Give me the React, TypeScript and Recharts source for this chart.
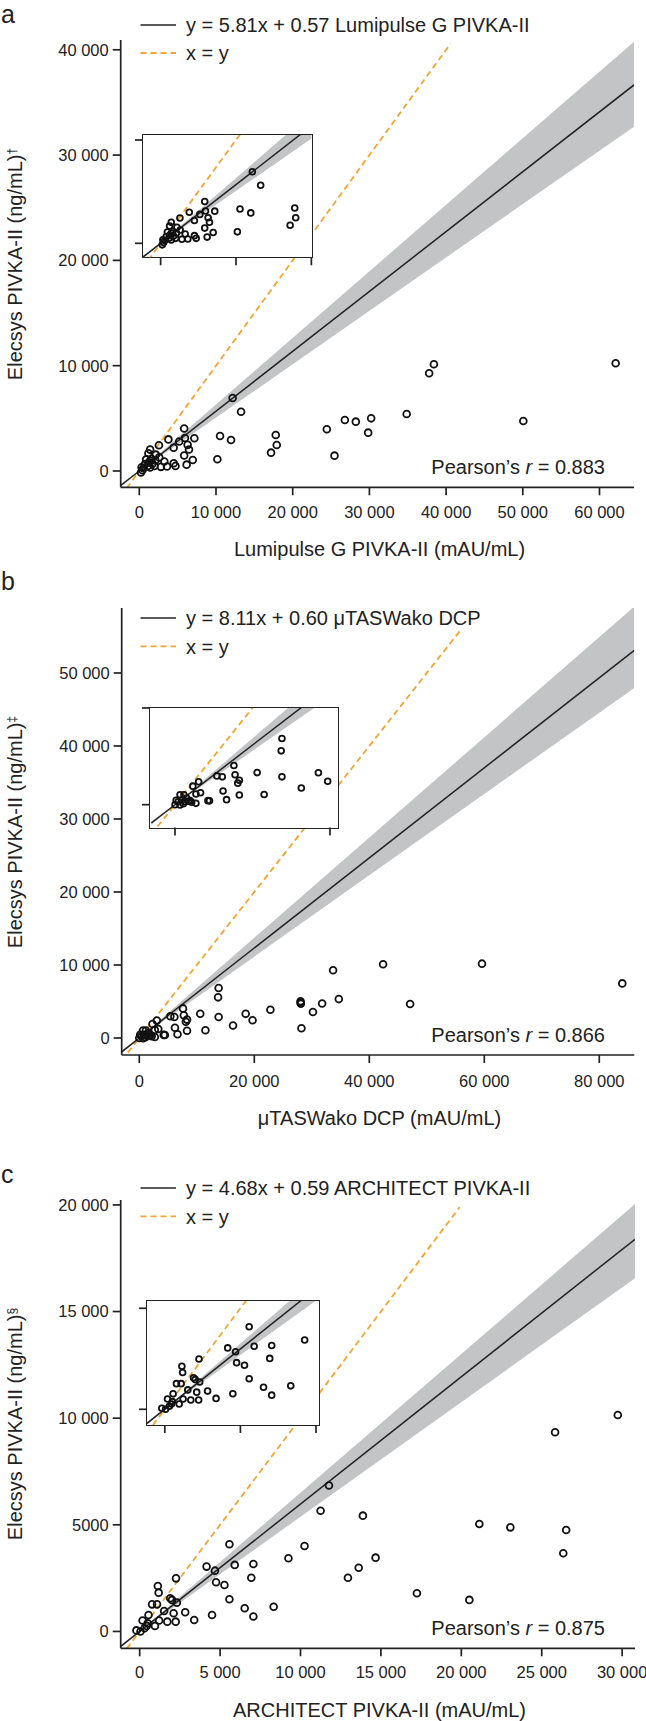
import React from "react";
import { ComposedChart, Area, Scatter, XAxis, YAxis, ReferenceLine } from "recharts";

// ---------- panel a: Lumipulse G PIVKA-II ----------
const aPoints = [
  [12170, 6930], [13270, 5620], [5850, 4040], [3800, 3000], [2560, 2450],
  [5950, 3130], [7180, 3110], [5200, 2800], [4480, 2200], [6300, 2480],
  [6480, 2040], [5850, 1470], [6970, 1040], [6170, 600], [4720, 480],
  [4490, 740], [3610, 420], [3260, 900], [2820, 390], [2600, 1290],
  [2160, 1550], [1410, 2030], [1190, 1680], [1410, 970], [1720, 700],
  [1410, 330], [750, 650], [530, 260], [220, -150], [400, 70],
  [1980, 480], [1100, 480], [900, 1100], [1600, 1150], [2100, 1000],
  [300, 350], [1250, 800], [10530, 3325], [11960, 2944], [10180, 1108],
  [17790, 3420], [17920, 2470], [17180, 1741], [24450, 3958], [25450, 1456],
  [26800, 4844], [28230, 4686], [30230, 5000], [29840, 3641], [34860, 5413],
  [50070, 4748], [37790, 9278], [38410, 10133], [62110, 10228],
];
const aBandX = [-2425, 0, 64500];
const aBandLo = [-1530, 0, 32700];
const aBandHi = [-1230, 0, 40770];
const aFit = [[-2425, -1380], [64500, 36660]];
const aIdentity = [[-2425, -2425], [40600, 40600]];
const aXTicks = [0, 10000, 20000, 30000, 40000, 50000, 60000];
const aXLabels = ["0", "10 000", "20 000", "30 000", "40 000", "50 000", "60 000"];
const aYTicks = [0, 10000, 20000, 30000, 40000];
const aYLabels = ["0", "10 000", "20 000", "30 000", "40 000"];

// ---------- panel b: μTASWako DCP ----------
const bPoints = [
  [13800, 6850], [13700, 5570], [13800, 2880], [7600, 4050], [5400, 2980],
  [6100, 2880], [7750, 3100], [8100, 2230], [8300, 2520], [10600, 3320],
  [11500, 1050], [6200, 1410], [6650, 520], [8300, 1000], [16300, 1720],
  [18500, 3310], [19700, 2430], [22800, 3870], [28050, 5020], [28050, 4860],
  [28100, 4700], [28200, 1340], [30200, 3550], [31800, 4720], [33700, 9270],
  [34700, 5330], [42400, 10100], [59600, 10180], [47100, 4660], [84000, 7480],
  [3050, 2380], [2300, 1920], [3300, 1230], [4450, 400], [4250, 420],
  [2700, 1100], [2150, 250], [1950, 420], [650, 1030], [1150, 1030],
  [150, 450], [0, 0], [650, -30], [1075, 100], [1500, 690],
  [1720, 350], [860, 450], [1270, 320], [2700, 140], [400, 300],
];
const bBandX = [-3060, 0, 86090];
const bBandLo = [-2100, 0, 47950];
const bBandHi = [-1700, 0, 59100];
const bFit = [[-3060, -1890], [86090, 53100]];
const bIdentity = [[-3060, -3060], [55900, 55900]];
const bXTicks = [0, 20000, 40000, 60000, 80000];
const bXLabels = ["0", "20 000", "40 000", "60 000", "80 000"];
const bYTicks = [0, 10000, 20000, 30000, 40000, 50000];
const bYLabels = ["0", "10 000", "20 000", "30 000", "40 000", "50 000"];

// ---------- panel c: ARCHITECT PIVKA-II ----------
const cPoints = [
  [11770, 6840], [11250, 5660], [13880, 5430], [21120, 5040], [23050, 4880],
  [26520, 4760], [26340, 3670], [5580, 4090], [10250, 4010], [9250, 3430],
  [14670, 3460], [13620, 2990], [12950, 2520], [17240, 1790], [20500, 1480],
  [29730, 10150], [25830, 9340], [4160, 3040], [4680, 2850], [5910, 3120],
  [7070, 3160], [6940, 2520], [4750, 2310], [5270, 2180], [5580, 1510],
  [6530, 1090], [8330, 1160], [7070, 700], [4500, 770], [3390, 540],
  [2830, 900], [2260, 2490], [1130, 2130], [1180, 1820], [1900, 1560],
  [2010, 1480], [2310, 1350], [770, 1270], [1080, 1270], [1520, 960],
  [2110, 850], [2240, 460], [1720, 460], [1210, 510], [950, 260],
  [180, 510], [440, 260], [50, 0], [-200, 50], [500, 380],
  [550, 770], [300, 150],
];
const cBandX = [-1180, 0, 30800];
const cBandLo = [-770, 0, 16560];
const cBandHi = [-635, 0, 20040];
const cFit = [[-1180, -700], [30800, 18390]];
const cIdentity = [[-1180, -1180], [19900, 19900]];
const cXTicks = [0, 5000, 10000, 15000, 20000, 25000, 30000];
const cXLabels = ["0", "5 000", "10 000", "15 000", "20 000", "25 000", "30 000"];
const cYTicks = [0, 5000, 10000, 15000, 20000];
const cYLabels = ["0", "5000", "10 000", "15 000", "20 000"];

const FONT = "'Liberation Sans', Arial, Helvetica, sans-serif";
const INK = "#222";
const ORANGE = "#f5a431";
const GREY = "#c3c4c6";

type Box = { l: number; r: number; t: number; b: number };

function makeBand(xs: number[], lo: number[], hi: number[]) {
  return xs.map((x, i) => ({ x, range: [lo[i], hi[i]] }));
}

interface PlotProps {
  box: Box;
  padL: number;
  padT: number;
  padR: number;
  padB: number;
  xDomain: number[];
  yDomain: number[];
  xTicks: number[];
  yTicks: number[];
  xLabels?: string[];
  yLabels?: string[];
  xTickMargin?: number;
  points: number[][];
  band: { x: number; range: number[] }[];
  fit: number[][];
  identity: number[][];
  inset?: boolean;
}

function Plot(p: PlotProps) {
  const width = p.box.r - p.box.l + p.padL + p.padR;
  const height = p.box.b - p.box.t + p.padT + p.padB;
  // scatter isn't clipped, so the inset only keeps points inside its window
  const pts = p.points
    .filter(([x, y]) => x >= p.xDomain[0] && x <= p.xDomain[1] && y >= p.yDomain[0] && y <= p.yDomain[1])
    .map(([x, y]) => ({ x, y }));
  const axisStroke = { stroke: INK, strokeWidth: 1.7 };
  const r = p.inset ? 2.9 : 3.4;
  const ring = (s: any) => (
    <circle cx={s.cx} cy={s.cy} r={r} fill="none" stroke="#111" strokeWidth={1.8} />
  );
  const fmt = (ticks: number[], labels?: string[]) => (v: number) =>
    labels ? labels[ticks.indexOf(v)] ?? "" : "";
  return (
    <div style={{ position: "absolute", left: p.box.l - p.padL, top: p.box.t - p.padT }}>
      <ComposedChart
        width={width}
        height={height}
        data={p.band}
        margin={{ top: p.padT, right: p.padR, bottom: 0, left: 0 }}
      >
        <XAxis
          type="number"
          dataKey="x"
          domain={p.xDomain}
          allowDataOverflow
          ticks={p.xTicks}
          interval={0}
          height={p.padB}
          tickSize={8}
          tickMargin={p.xTickMargin ?? 11}
          axisLine={p.inset ? false : axisStroke}
          tickLine={axisStroke}
          tick={{ fontSize: 16.5, fill: INK }}
          tickFormatter={fmt(p.xTicks, p.xLabels)}
        />
        <YAxis
          type="number"
          dataKey="y"
          domain={p.yDomain}
          allowDataOverflow
          ticks={p.yTicks}
          interval={0}
          width={p.padL}
          tickSize={8}
          tickMargin={4}
          axisLine={p.inset ? false : axisStroke}
          tickLine={axisStroke}
          tick={{ fontSize: 16.5, fill: INK }}
          tickFormatter={fmt(p.yTicks, p.yLabels)}
        />
        <Area
          type="linear"
          dataKey="range"
          stroke="none"
          fill={GREY}
          fillOpacity={1}
          dot={false}
          activeDot={false}
          isAnimationActive={false}
        />
        <ReferenceLine
          segment={[
            { x: p.identity[0][0], y: p.identity[0][1] },
            { x: p.identity[1][0], y: p.identity[1][1] },
          ]}
          stroke={ORANGE}
          strokeWidth={1.8}
          strokeDasharray="6 4"
          ifOverflow="hidden"
        />
        <ReferenceLine
          segment={[
            { x: p.fit[0][0], y: p.fit[0][1] },
            { x: p.fit[1][0], y: p.fit[1][1] },
          ]}
          stroke={INK}
          strokeWidth={1.5}
          ifOverflow="hidden"
        />
        <Scatter data={pts} shape={ring} isAnimationActive={false} />
      </ComposedChart>
    </div>
  );
}

function InsetFrame({ box }: { box: Box }) {
  return (
    <div
      style={{
        position: "absolute",
        left: box.l - 0.9,
        top: box.t - 0.9,
        width: box.r - box.l + 1.8,
        height: box.b - box.t + 1.8,
        boxSizing: "border-box",
        border: `1.8px solid ${INK}`,
        background: "#fff",
      }}
    />
  );
}

function Txt({ x, cy, size = 20, children, align = "left", w = 400 }: any) {
  const left = align === "left" ? x : align === "right" ? x - w : x - w / 2;
  return (
    <div
      style={{
        position: "absolute",
        left,
        top: cy - size / 2,
        width: w,
        height: size,
        lineHeight: `${size}px`,
        fontSize: size,
        textAlign: align,
        whiteSpace: "nowrap",
        color: INK,
      }}
    >
      {children}
    </div>
  );
}

function Legend({ y1, y2, text }: { y1: number; y2: number; text: string }) {
  return (
    <>
      <svg style={{ position: "absolute", left: 140, top: y1 - 10 }} width={38} height={50}>
        <line x1={0.5} x2={36} y1={10} y2={10} stroke={INK} strokeWidth={1.5} />
        <line x1={0.5} x2={36} y1={10 + y2 - y1} y2={10 + y2 - y1} stroke={ORANGE} strokeWidth={1.8} strokeDasharray="6 4" />
      </svg>
      <Txt x={186} cy={y1}>{text}</Txt>
      <Txt x={186} cy={y2}>x = y</Txt>
    </>
  );
}

function YTitle({ cy, mark }: { cy: number; mark: string }) {
  return (
    <div
      style={{
        position: "absolute",
        left: 11.5 - 160,
        top: cy - 10,
        width: 320,
        height: 20,
        lineHeight: "20px",
        fontSize: 20,
        textAlign: "center",
        transform: "rotate(-90deg)",
        color: INK,
        whiteSpace: "nowrap",
      }}
    >
      Elecsys PIVKA-II (ng/mL)<span style={{ fontSize: 12, verticalAlign: "6px" }}>{mark}</span>
    </div>
  );
}

function Letter({ ch, base }: { ch: string; base: number }) {
  return (
    <div style={{ position: "absolute", left: 1, top: base - 21.2, fontSize: 25, lineHeight: "25px", color: INK }}>
      {ch}
    </div>
  );
}

function Pearson({ cy, r }: { cy: number; r: string }) {
  return (
    <Txt x={605} cy={cy} align="right" w={260}>
      Pearson’s <i>r</i> = {r}
    </Txt>
  );
}

const aBox = { l: 120.7, r: 634, t: 40, b: 487.3 };
const bBox = { l: 121.7, r: 634.3, t: 608.3, b: 1055.3 };
const cBox = { l: 120.7, r: 635, t: 1200, b: 1648.3 };
const aInsetBox = { l: 143.3, r: 311.7, t: 135, b: 257.3 };
const bInsetBox = { l: 150, r: 337.7, t: 708.3, b: 827.7 };
const cInsetBox = { l: 146.7, r: 319, t: 1301, b: 1425 };

export default function App() {
  const aBand = makeBand(aBandX, aBandLo, aBandHi);
  const bBand = makeBand(bBandX, bBandLo, bBandHi);
  const cBand = makeBand(cBandX, cBandLo, cBandHi);
  const main = (box: Box) => ({ box, padL: box.l, padT: 10, padR: 646 - box.r, padB: 70 });
  const ins = (box: Box) => ({ box, padL: 12, padT: 4, padR: 4, padB: 12, inset: true });
  return (
    <div
      style={{
        position: "absolute",
        left: 0,
        top: 0,
        width: 646,
        height: 1721,
        background: "#fff",
        fontFamily: FONT,
        overflow: "hidden",
      }}
    >
      {/* panel a */}
      <Plot {...main(aBox)} xDomain={[-2425, 64500]} yDomain={[-1550, 40930]}
        xTicks={aXTicks} yTicks={aYTicks} xLabels={aXLabels} yLabels={aYLabels} xTickMargin={11}
        points={aPoints} band={aBand} fit={aFit} identity={aIdentity} />
      <InsetFrame box={aInsetBox} />
      <Plot {...ins(aInsetBox)} xDomain={[-2338, 20000]} yDomain={[-1355, 10484]}
        xTicks={[0, 10000, 20000]} yTicks={[0, 10000]}
        points={aPoints} band={aBand} fit={aFit} identity={aIdentity} />
      <Letter ch="a" base={23.3} />
      <Legend y1={25} y2={53} text="y = 5.81x + 0.57 Lumipulse G PIVKA-II" />
      <YTitle cy={264} mark="†" />
      <Txt x={379.5} cy={548.7} align="center">Lumipulse G PIVKA-II (mAU/mL)</Txt>
      <Pearson cy={466.7} r="0.883" />

      {/* panel b */}
      <Plot {...main(bBox)} xDomain={[-3060, 86090]} yDomain={[-2330, 58900]}
        xTicks={bXTicks} yTicks={bYTicks} xLabels={bXLabels} yLabels={bYLabels} xTickMargin={12}
        points={bPoints} band={bBand} fit={bFit} identity={bIdentity} />
      <InsetFrame box={bInsetBox} />
      <Plot {...ins(bInsetBox)} xDomain={[-3226, 20990]} yDomain={[-2347, 10000]}
        xTicks={[0, 20000]} yTicks={[0, 10000]}
        points={bPoints} band={bBand} fit={bFit} identity={bIdentity} />
      <Letter ch="b" base={590} />
      <Legend y1={618.3} y2={646.7} text="y = 8.11x + 0.60 μTASWako DCP" />
      <YTitle cy={832} mark="‡" />
      <Txt x={379.5} cy={1117.5} align="center">μTASWako DCP (mAU/mL)</Txt>
      <Pearson cy={1035} r="0.866" />

      {/* panel c */}
      <Plot {...main(cBox)} xDomain={[-1180, 30800]} yDomain={[-790, 20230]}
        xTicks={cXTicks} yTicks={cYTicks} xLabels={cXLabels} yLabels={cYLabels} xTickMargin={10}
        points={cPoints} band={cBand} fit={cFit} identity={cIdentity} />
      <InsetFrame box={cInsetBox} />
      <Plot {...ins(cInsetBox)} xDomain={[-1177, 10218]} yDomain={[-777, 5361]}
        xTicks={[0, 5000, 10000]} yTicks={[0, 5000]}
        points={cPoints} band={cBand} fit={cFit} identity={cIdentity} />
      <Letter ch="c" base={1183.3} />
      <Legend y1={1188.3} y2={1216.7} text="y = 4.68x + 0.59 ARCHITECT PIVKA-II" />
      <YTitle cy={1424} mark="§" />
      <Txt x={379.5} cy={1710} align="center">ARCHITECT PIVKA-II (mAU/mL)</Txt>
      <Pearson cy={1627.7} r="0.875" />
    </div>
  );
}
